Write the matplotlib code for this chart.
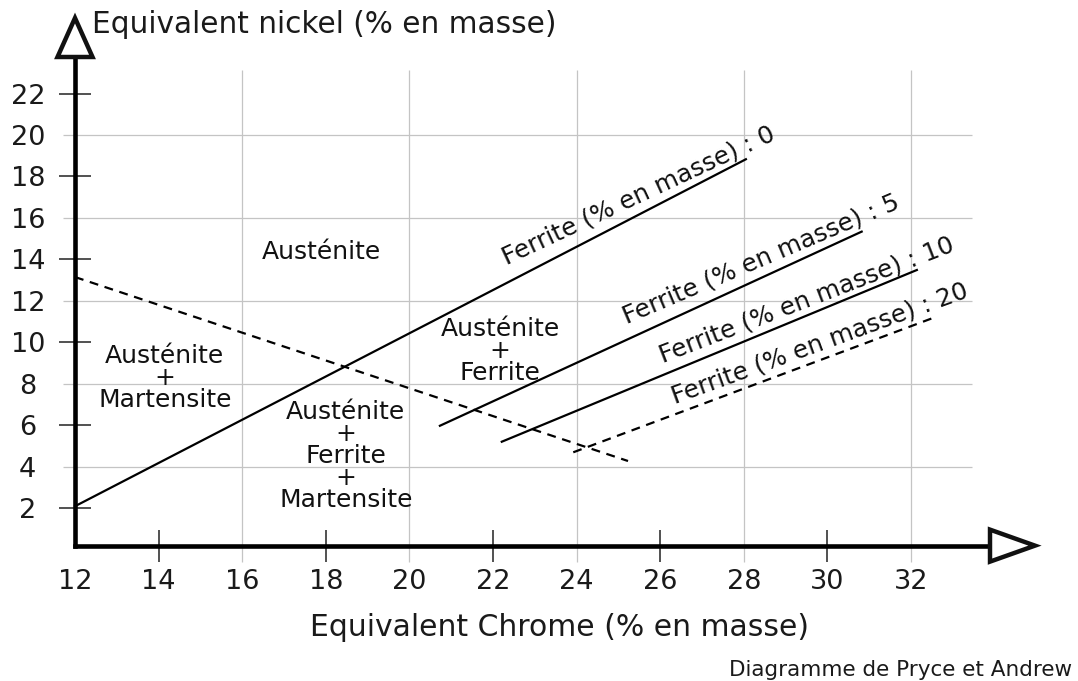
import numpy as np
import matplotlib
matplotlib.use("Agg")
import matplotlib.pyplot as plt
from matplotlib.patches import Polygon

# tick values, grid lines, short tick marks
x_ticks = [12, 14, 16, 18, 20, 22, 24, 26, 28, 30, 32]
y_ticks = [2, 4, 6, 8, 10, 12, 14, 16, 18, 20, 22]
x_grid = [16, 20, 24, 28, 32]
y_grid = [4, 8, 12, 16, 20]
x_marks = [14, 18, 22, 26, 30]
y_marks = [2, 6, 10, 14, 18, 22]

# iso-ferrite lines (start / end in Cr-eq, Ni-eq)
ferrite_levels = ["0", "5", "10", "20"]
ferrite_x0 = [12.0, 20.73, 22.21, 23.92]
ferrite_y0 = [2.10, 5.98, 5.21, 4.70]
ferrite_x1 = [28.05, 30.82, 32.14, 32.53]
ferrite_y1 = [18.83, 15.34, 13.49, 11.18]
ferrite_dashed = [False, False, False, True]

# martensite boundary (dashed)
martensite_x = [12.0, 25.23]
martensite_y = [13.15, 4.28]

regions = [
    "Austénite",
    "Austénite\n+\nMartensite",
    "Austénite\n+\nFerrite",
    "Austénite\n+\nFerrite\n+\nMartensite",
]
region_x = [17.90, 14.15, 22.17, 18.48]
region_y = [14.37, 8.28, 9.58, 4.52]

# pixel mapping of the reference picture
W, H = 1078, 681
PX_X, PX_Y = 41.8, 20.74
x_left = 12 - 75 / PX_X
y_top = 2 + 508.3 / PX_Y

fig = plt.figure(figsize=(W / 100, H / 100), dpi=100)
ax = fig.add_axes([0, 0, 1, 1])
ax.set_xlim(x_left, x_left + W / PX_X)
ax.set_ylim(y_top - H / PX_Y, y_top)
ax.patch.set_alpha(0)

x_axis_at = 0.2
y_axis_end = 23.76
x_axis_end = 33.89

# spines as the axes of the diagram
for side in ["top", "right"]:
    ax.spines[side].set_visible(False)
ax.spines["left"].set_position(("data", 12))
ax.spines["bottom"].set_position(("data", x_axis_at))
ax.spines["left"].set_bounds(x_axis_at, y_axis_end)
ax.spines["bottom"].set_bounds(12, x_axis_end)
for side in ["left", "bottom"]:
    ax.spines[side].set_linewidth(3.3)
    ax.spines[side].set_capstyle("projecting")
    ax.spines[side].set_zorder(5)

# grid lines (drawn past the axes like in the original)
ax.hlines(y_grid, 11.71, 33.46, color="#c4c4c4", lw=0.9, zorder=0)
ax.vlines(x_grid, -0.58, 23.14, color="#c4c4c4", lw=0.9, zorder=0)

# ticks
ax.xaxis.remove_overlapping_locs = False
ax.yaxis.remove_overlapping_locs = False
ax.set_xticks(x_ticks)
ax.set_xticklabels([str(v) for v in x_ticks])
ax.set_yticks(y_ticks)
ax.set_yticklabels([str(v) for v in y_ticks])
ax.set_xticks(x_marks, minor=True)
ax.set_yticks(y_marks, minor=True)
ax.tick_params(which="major", length=0, labelsize=19.5, labelcolor="#1a1a1a")
ax.tick_params(axis="x", which="major", pad=17)
ax.tick_params(axis="y", which="major", pad=34)
ax.tick_params(which="minor", direction="inout", length=23, width=1.2,
               color="#333333", labelsize=0)
for t in ax.get_yticklabels():
    t.set_ha("center")

# arrow heads (hollow triangles)
sx, sy = 1 / PX_X, 1 / PX_Y
y_head = Polygon([(12 - 17.5 * sx, y_axis_end), (12 + 17.5 * sx, y_axis_end),
                  (12, y_axis_end + 39 * sy)], closed=True,
                 fc="white", ec="#111111", lw=3.2, joinstyle="miter", zorder=6)
x_head = Polygon([(x_axis_end, x_axis_at - 16 * sy), (x_axis_end, x_axis_at + 16 * sy),
                  (x_axis_end + 45 * sx, x_axis_at)], closed=True,
                 fc="white", ec="#111111", lw=3.2, joinstyle="miter", zorder=6)
ax.add_patch(y_head)
ax.add_patch(x_head)

# martensite boundary
ax.plot(martensite_x, martensite_y, color="black", lw=1.6, ls=(0, (4, 3)), zorder=3)

# iso-ferrite lines and their labels
label_x = [22.33, 25.20, 26.07, 26.35]
label_y = [13.73, 10.92, 9.00, 7.06]
label_rot = [25, 23, 21, 20]
for i, lvl in enumerate(ferrite_levels):
    ls = (0, (4, 3)) if ferrite_dashed[i] else "-"
    ax.plot([ferrite_x0[i], ferrite_x1[i]], [ferrite_y0[i], ferrite_y1[i]],
            color="black", lw=1.6, ls=ls, zorder=3)
    ax.text(label_x[i], label_y[i], f"Ferrite (% en masse) : {lvl}",
            rotation=label_rot[i], rotation_mode="anchor",
            ha="left", va="baseline", fontsize=17.8, color="#111111")

for txt, x, y in zip(regions, region_x, region_y):
    ax.text(x, y, txt, ha="center", va="center", fontsize=18,
            linespacing=0.9, color="#111111")

fig.text(92 / W, 1 - 33 / H, "Equivalent nickel (% en masse)",
         ha="left", va="baseline", fontsize=21.3, color="#1a1a1a")
fig.text(560 / W, 1 - 636 / H, "Equivalent Chrome (% en masse)",
         ha="center", va="baseline", fontsize=21.5, color="#1a1a1a")
fig.text(1072 / W, 1 - 676 / H, "Diagramme de Pryce et Andrew",
         ha="right", va="baseline", fontsize=15.5, color="#1a1a1a")

fig.savefig("out.png", dpi=100)
